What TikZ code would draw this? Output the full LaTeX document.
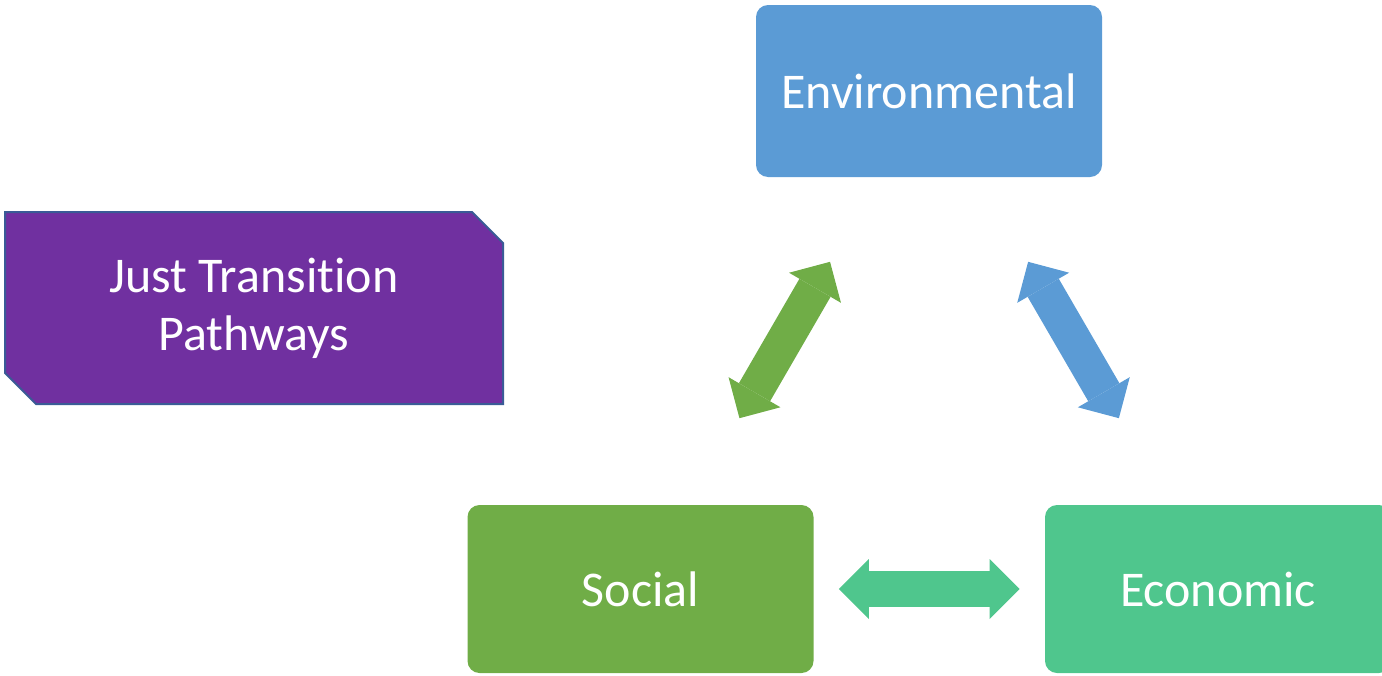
\documentclass[tikz,border=0pt]{standalone}
\usepackage{fontspec}
\setmainfont{Carlito}[RawFeature={-liga;-clig;-calt;-dlig}]
\usetikzlibrary{arrows.meta, calc, shapes.misc}

\definecolor{envblue}{HTML}{5B9BD5}
\definecolor{socgreen}{HTML}{70AD47}
\definecolor{ecogreen}{HTML}{4FC68D}
\definecolor{jtpurple}{HTML}{7030A0}
\definecolor{jtborder}{HTML}{3A5B96}

\begin{document}
\begin{tikzpicture} [x=0.5pt, y=-0.5pt,
    pillar/.style = {rectangle, rounded corners=6pt,
        minimum width=173pt, minimum height=84pt,
        text=white, font=\fontsize{25}{29}\selectfont},
    link/.style = {line width=18pt,
        >={Triangle[length=15pt, width=30pt, line width=0pt]}, <->}]
    % \draw [help lines, step=100] (0,0) grid (1382,675);
    \useasboundingbox (0,0) rectangle (1382,675);
    \clip (0,0) rectangle (1382,675);

    \node (env) [pillar, fill=envblue, 
        minimum height=86pt] at (929,91) {Environmental};
    \node (soc) [pillar, fill=socgreen] at (640.5,589) {Social};
    \node (eco) [pillar, fill=ecogreen] at (1218,589) {Economic};
    \node (jtp) [chamfered rectangle,
        chamfered rectangle corners={north east, south west},
        chamfered rectangle xsep=7.75pt, chamfered rectangle ysep=7.75pt,
        minimum width=249pt, minimum height=96pt,
        fill=jtpurple, draw=jtborder, line width=1pt,
        text=white, align=center,
        font=\fontsize{25}{29}\selectfont] at (254,308)
        {Just Transit\kern0pt ion\\Pathways};

    \draw [link, socgreen] ($(soc)!.343!(env)$) -- ($(soc)!.657!(env)$);
    \draw [link, envblue] ($(env)!.343!(eco)$) -- ($(env)!.657!(eco)$);
    \draw [link, ecogreen, shorten <=12.5pt, shorten >=12.5pt]
        (soc.east) -- (eco.west);
\end{tikzpicture}
\end{document}
